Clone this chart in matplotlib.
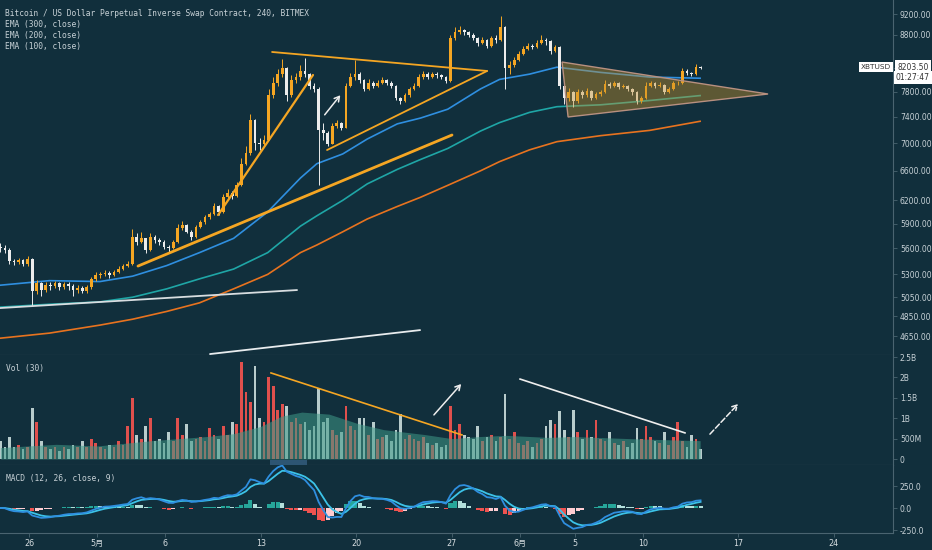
import numpy as np
import pandas as pd
import matplotlib
matplotlib.use("Agg")
import matplotlib.pyplot as plt
from matplotlib.patches import Polygon, Rectangle

plt.rcParams['font.family'] = ['DejaVu Sans', 'Noto Sans CJK SC']

W, H = 932, 550
BG = '#112f3c'
SEP = '#4a6470'
UP = '#f5a623'
DOWN = '#ececec'
TXT = '#c8d2d7'

# 8h candles, first one at day -2.1 (day 0 = Apr 26)
day0 = -2.1
bar_step = 1 / 3
first_open = 5620
closes = [5600, 5580, 5450, 5440, 5460, 5420, 5480, 5120, 5200, 5130,
          5180, 5170, 5200, 5160, 5190, 5170, 5130, 5150, 5120, 5160,
          5250, 5290, 5300, 5320, 5290, 5330, 5360, 5400, 5420, 5740,
          5680, 5720, 5580, 5740, 5700, 5680, 5620, 5600, 5680, 5850,
          5880, 5800, 5740, 5860, 5920, 5980, 6020, 6120, 6050, 6250,
          6300, 6260, 6400, 6700, 6850, 7350, 7000, 6980, 7050, 7750,
          7950, 8100, 8200, 7750, 8000, 8050, 8150, 8100, 7900, 7850,
          7200, 7150, 6990, 7250, 7300, 7230, 7900, 8050, 8100, 8000,
          7850, 7950, 7900, 7950, 8000, 7950, 7900, 7700, 7650, 7750,
          7850, 7900, 8050, 8100, 8050, 8100, 8080, 8050, 7980, 8750,
          8850, 8900, 8850, 8800, 8750, 8650, 8700, 8600, 8750, 8700,
          8950, 8200, 8250, 8350, 8450, 8550, 8600, 8580, 8650, 8700,
          8680, 8500, 8580, 7900, 7700, 7800, 7650, 7800, 7750, 7820,
          7700, 7760, 7800, 7930, 7900, 7950, 7880, 7900, 7850, 7800,
          7650, 7700, 7900, 7950, 7900, 7920, 7800, 7850, 7950, 7950,
          8150, 8120, 8100, 8220, 8203.5]
highs = [5660, 5640, 5600, 5480, 5490, 5480, 5510, 5490, 5240, 5220,
         5210, 5210, 5230, 5220, 5220, 5210, 5190, 5180, 5170, 5180,
         5270, 5330, 5330, 5350, 5340, 5350, 5390, 5420, 5450, 5830,
         5780, 5800, 5720, 5790, 5760, 5720, 5700, 5640, 5700, 5900,
         5930, 5900, 5820, 5880, 5950, 6010, 6050, 6160, 6140, 6290,
         6350, 6330, 6450, 6780, 6950, 7450, 7360, 7080, 7120, 7850,
         8050, 8180, 8370, 8220, 8080, 8120, 8250, 8380, 8120, 7950,
         7880, 7300, 7180, 7300, 7350, 7320, 7950, 8120, 8350, 8130,
         8020, 8020, 7980, 8000, 8050, 8020, 7980, 7920, 7720, 7780,
         7880, 7950, 8100, 8160, 8130, 8130, 8130, 8100, 8070, 8800,
         8950, 8960, 8920, 8880, 8830, 8770, 8760, 8720, 8790, 8800,
         9160, 8960, 8330, 8400, 8500, 8600, 8650, 8640, 8700, 8800,
         8740, 8700, 8620, 8600, 7950, 7870, 7820, 7850, 7840, 7860,
         7840, 7800, 7840, 8000, 7970, 7990, 7960, 7940, 7920, 7870,
         7820, 7740, 7960, 7990, 7970, 7960, 7930, 7890, 7980, 7990,
         8200, 8180, 8140, 8280, 8240]
lows = [5560, 5540, 5420, 5410, 5420, 5390, 5400, 4960, 5080, 5060,
        5110, 5130, 5150, 5130, 5140, 5130, 5060, 5100, 5090, 5100,
        5140, 5230, 5260, 5280, 5260, 5280, 5320, 5350, 5380, 5410,
        5640, 5660, 5540, 5570, 5660, 5640, 5590, 5560, 5590, 5670,
        5820, 5780, 5700, 5730, 5850, 5900, 5960, 6010, 6010, 6040,
        6230, 6220, 6250, 6390, 6680, 6830, 6900, 6900, 6950, 7040,
        7700, 7900, 8050, 7650, 7720, 7950, 8000, 8050, 7850, 7800,
        6400, 7050, 6950, 6980, 7220, 7200, 7220, 7880, 8000, 7950,
        7820, 7830, 7860, 7880, 7930, 7910, 7870, 7660, 7600, 7630,
        7720, 7830, 7880, 8020, 8020, 8030, 8040, 8010, 7950, 7970,
        8700, 8820, 8800, 8760, 8700, 8600, 8630, 8560, 8580, 8660,
        8680, 7850, 8100, 8220, 8330, 8430, 8520, 8540, 8560, 8630,
        8620, 8460, 8480, 7850, 7600, 7650, 7560, 7620, 7700, 7720,
        7660, 7680, 7740, 7780, 7860, 7880, 7850, 7860, 7820, 7750,
        7600, 7620, 7690, 7880, 7870, 7880, 7770, 7790, 7840, 7910,
        7940, 8080, 8060, 8090, 8180]
# volume per bar, billions
volumes = [0.45, 0.3, 0.55, 0.3, 0.35, 0.25, 0.3, 1.25, 0.9, 0.45,
           0.3, 0.25, 0.3, 0.2, 0.3, 0.25, 0.35, 0.3, 0.45, 0.3,
           0.5, 0.4, 0.3, 0.25, 0.35, 0.3, 0.45, 0.35, 0.8, 1.5,
           0.6, 0.5, 0.8, 1.0, 0.45, 0.5, 0.4, 0.65, 0.45, 1.0,
           0.6, 0.85, 0.45, 0.5, 0.55, 0.45, 0.75, 0.6, 0.5, 0.8,
           0.6, 0.9, 0.85, 2.37, 1.65, 1.4, 2.27, 1.0, 0.9, 2.0,
           1.8, 1.2, 1.35, 1.3, 0.9, 1.0, 0.85, 0.9, 0.7, 0.8,
           1.73, 0.9, 1.0, 0.7, 0.6, 0.65, 1.3, 0.8, 0.7, 1.0,
           1.0, 0.6, 0.9, 0.5, 0.55, 0.6, 0.45, 0.7, 1.1, 0.5,
           0.6, 0.5, 0.45, 0.55, 0.4, 0.35, 0.4, 0.3, 0.35, 1.3,
           0.7, 0.85, 0.6, 0.55, 0.5, 0.8, 0.45, 0.55, 0.6, 0.45,
           0.55, 1.6, 0.5, 0.65, 0.4, 0.35, 0.45, 0.3, 0.4, 0.5,
           0.8, 0.95, 0.85, 1.17, 0.7, 0.55, 1.2, 0.65, 0.5, 0.7,
           0.55, 0.95, 0.5, 0.45, 0.65, 0.4, 0.35, 0.45, 0.3, 0.4,
           0.75, 0.5, 0.8, 0.55, 0.45, 0.4, 0.65, 0.35, 0.55, 0.9,
           0.45, 0.3, 0.6, 0.5, 0.25]

ema_days = [-2.1, 1.5, 5.2, 7.6, 10.1, 12.5, 15.0, 17.5, 19.9, 21.1, 23.0,
            24.8, 27.0, 28.7, 30.7, 33.1, 34.5, 36.7, 38.7, 41.9, 45.5, 49.2]
ema100 = [5180, 5230, 5220, 5280, 5400, 5550, 5720, 6050, 6500, 6700, 6840,
          7060, 7290, 7380, 7520, 7850, 8010, 8100, 8220, 8130, 8050, 8030]
ema200 = [4945, 4975, 5000, 5050, 5140, 5250, 5360, 5550, 5870, 6000, 6200,
          6420, 6620, 6760, 6920, 7180, 7310, 7470, 7560, 7590, 7660, 7740]
ema300 = [4630, 4680, 4760, 4820, 4900, 4990, 5140, 5300, 5550, 5640, 5800,
          5960, 6120, 6240, 6400, 6600, 6730, 6900, 7020, 7110, 7190, 7330]

vol_ma_days = [-2.1, 2, 5, 9, 13, 15, 17, 18.5, 20, 22, 24, 26, 29, 31, 33,
               35, 38, 40, 44, 47, 49.2]
vol_ma = [0.28, 0.36, 0.32, 0.45, 0.55, 0.62, 0.8, 1.05, 1.15, 1.1, 0.88,
          0.72, 0.6, 0.5, 0.55, 0.58, 0.53, 0.55, 0.5, 0.47, 0.45]

# drawings: (day, price) / (day, volume)
tri_top = [(17.82, 8489), (33.58, 8154)]
tri_support = [(21.85, 6897), (33.58, 8154)]
steep_line = [(13.86, 6010), (20.82, 8085)]
long_line = [(7.99, 5394), (31.01, 7120)]
white_low = [(-2.13, 4935), (19.65, 5127)]
white_bottom = [(13.27, 4477), (28.67, 4710)]
price_arrow = [(21.55, 7397), (22.95, 7782)]
pennant = [(39.08, 8310), (39.52, 7397), (54.18, 7766)]
vol_orange = [(17.74, 2.11), (31.74, 0.59)]
vol_arrow = [(29.55, 1.03), (31.82, 1.89)]
vol_white = [(36.0, 1.96), (48.09, 0.64)]
vol_dash_arrow = [(49.78, 0.56), (52.13, 1.40)]

price_ticks = [4650, 4850, 5050, 5300, 5600, 5900, 6200, 6600, 7000, 7400,
               7800, 8200, 8800, 9200]
vol_ticks = [0, 0.5, 1, 1.5, 2, 2.5]
vol_tick_labels = ['0', '500M', '1B', '1.5B', '2B', '2.5B']
macd_ticks = [-250, 0, 250]
macd_tick_labels = ['-250.0', '0.0', '250.0']
tick_days = [0, 5, 10, 17, 24, 31, 36, 40, 45, 52, 59]
tick_labels = ['26', '5月', '6', '13', '20', '27', '6月', '5', '10', '17', '24']

fig = plt.figure(figsize=(W / 100, H / 100), dpi=100, facecolor=BG)


def box(top, bottom):
    return [0, 1 - bottom / H, 893 / W, (bottom - top) / H]


ax_p = fig.add_axes(box(0, 355))
ax_v = fig.add_axes(box(355, 465))
ax_m = fig.add_axes(box(465, 533))

xlim = (-2.126, 63.34)
for ax in (ax_p, ax_v, ax_m):
    ax.set_facecolor(BG)
    ax.set_xlim(*xlim)
    for s in ('top', 'left'):
        ax.spines[s].set_visible(False)
    for s in ('bottom', 'right'):
        ax.spines[s].set_color(SEP)
        ax.spines[s].set_linewidth(0.8)
    ax.yaxis.tick_right()
    ax.tick_params(axis='y', length=3, width=0.6, color=SEP, labelcolor=TXT,
                   labelsize=5.5, pad=2)
    ax.tick_params(axis='x', length=0, labelbottom=False)

# ---- price panel
n = len(closes)
t = day0 + np.arange(n) * bar_step
c = np.array(closes, dtype=float)
o = np.r_[first_open, c[:-1]]
up = c >= o
col = np.where(up, UP, DOWN)

ax_p.set_yscale('log')
ax_p.set_ylim(4468, 9477)
ax_p.set_yticks(price_ticks)
ax_p.set_yticklabels([f"{v:.2f}" for v in price_ticks])
ax_p.minorticks_off()

ax_p.plot(ema_days, ema300, color='#e8731f', lw=1.2, zorder=2)
ax_p.plot(ema_days, ema200, color='#1fa6a6', lw=1.2, zorder=2)
ax_p.plot(ema_days, ema100, color='#2f8fe0', lw=1.2, zorder=2)

ax_p.vlines(t, lows, highs, colors=col, lw=0.7, zorder=3)
ax_p.bar(t, np.maximum(np.abs(c - o), 6), bottom=np.minimum(o, c), width=0.2,
         color=col, linewidth=0, zorder=4)

for seg, colr, lw in [(tri_top, UP, 1.3), (tri_support, UP, 1.3),
                      (steep_line, UP, 1.6), (long_line, UP, 2.0),
                      (white_low, '#d8dde0', 1.3), (white_bottom, '#e8ecee', 1.3)]:
    xs, ys = zip(*seg)
    ax_p.plot(xs, ys, color=colr, lw=lw, zorder=5, solid_capstyle='round')

ax_p.annotate('', xy=price_arrow[1], xytext=price_arrow[0],
              arrowprops=dict(arrowstyle='->,head_length=0.35,head_width=0.2',
                              color='#eeeeee', lw=1.1), zorder=6)
ax_p.add_patch(Polygon(pennant, closed=True, facecolor='#c8922a', alpha=0.42,
                       edgecolor='none', zorder=6))
ax_p.add_patch(Polygon(pennant, closed=True, facecolor='none',
                       edgecolor='#b89080', lw=1.0, zorder=6))

# ---- volume panel
vcol = np.where(up, '#e0504d', '#b8cccc')
ax_v.set_ylim(-0.147, 2.55)
ax_v.set_yticks(vol_ticks)
ax_v.set_yticklabels(vol_tick_labels)
ax_v.bar(t, volumes, width=0.2, color=vcol, linewidth=0, zorder=2)
ax_v.fill_between(vol_ma_days, vol_ma, 0, color='#3f9a88', alpha=0.55,
                  linewidth=0, zorder=3)
ax_v.add_patch(Rectangle((17.67, -0.147), 2.7, 0.12, facecolor='#2d5573',
                         edgecolor='none', zorder=3))
xs, ys = zip(*vol_orange)
ax_v.plot(xs, ys, color=UP, lw=1.2, zorder=5)
xs, ys = zip(*vol_white)
ax_v.plot(xs, ys, color='#eeeeee', lw=1.2, zorder=5)
ax_v.annotate('', xy=vol_arrow[1], xytext=vol_arrow[0],
              arrowprops=dict(arrowstyle='->,head_length=0.35,head_width=0.2',
                              color='#eeeeee', lw=1.1))
ax_v.annotate('', xy=vol_dash_arrow[1], xytext=vol_dash_arrow[0],
              arrowprops=dict(arrowstyle='->,head_length=0.35,head_width=0.2',
                              color='#eeeeee', lw=1.1, ls='--'))

# ---- MACD panel (12, 26, 9 on 4h -> 6, 13, 4.5 on 8h bars)
s = pd.Series(c)
macd = s.ewm(span=6, adjust=False).mean() - s.ewm(span=13, adjust=False).mean()
sig = macd.ewm(span=4.5, adjust=False).mean()
hist = (macd - sig).values
prev = np.r_[0, hist[:-1]]
hcol = np.where(hist >= 0, np.where(hist >= prev, '#26a69a', '#b2dfdb'),
                np.where(hist < prev, '#ef5350', '#ffcdd2'))
ax_m.set_ylim(-284, 489)
ax_m.set_yticks(macd_ticks)
ax_m.set_yticklabels(macd_tick_labels)
ax_m.bar(t, hist, width=0.3, color=hcol, linewidth=0, zorder=2)
ax_m.plot(t, sig, color='#3cc3e8', lw=1.3, zorder=3)
ax_m.plot(t, macd, color='#2f8fe0', lw=1.3, zorder=3)

ax_m.set_xticks(tick_days)
ax_m.set_xticklabels(tick_labels)
ax_m.tick_params(axis='x', length=3, width=0.6, color=SEP, labelbottom=True,
                 labelcolor='#d6dde0', labelsize=5.8, pad=1.5)

# ---- texts
def fx(x):
    return x / W


def fy(y):
    return 1 - y / H


legend = ['Bitcoin / US Dollar Perpetual Inverse Swap Contract, 240, BITMEX',
          'EMA (300, close)', 'EMA (200, close)', 'EMA (100, close)']
for i, txt in enumerate(legend):
    fig.text(fx(5), fy(13 + 11.3 * i), txt, color=TXT, fontsize=5.7,
             family='DejaVu Sans Mono', va='center')
fig.text(fx(6), fy(368), 'Vol (30)', color=TXT, fontsize=5.7,
         family='DejaVu Sans Mono', va='center')
fig.text(fx(6), fy(478), 'MACD (12, 26, close, 9)', color=TXT, fontsize=5.7,
         family='DejaVu Sans Mono', va='center')

fig.text(fx(876), fy(67), 'XBTUSD', color='#333333', fontsize=5.3,
         ha='center', va='center',
         bbox=dict(boxstyle='square,pad=0.3', facecolor='white', edgecolor='none'))
fig.text(fx(913), fy(67), '8203.50', color='#333333', fontsize=5.5,
         ha='center', va='center',
         bbox=dict(boxstyle='square,pad=0.3', facecolor='white', edgecolor='none'))
fig.text(fx(913), fy(77.5), '01:27:47', color='#333333', fontsize=5.5,
         ha='center', va='center',
         bbox=dict(boxstyle='square,pad=0.3', facecolor='white', edgecolor='none'))

fig.savefig('out.png', dpi=100, facecolor=BG)
